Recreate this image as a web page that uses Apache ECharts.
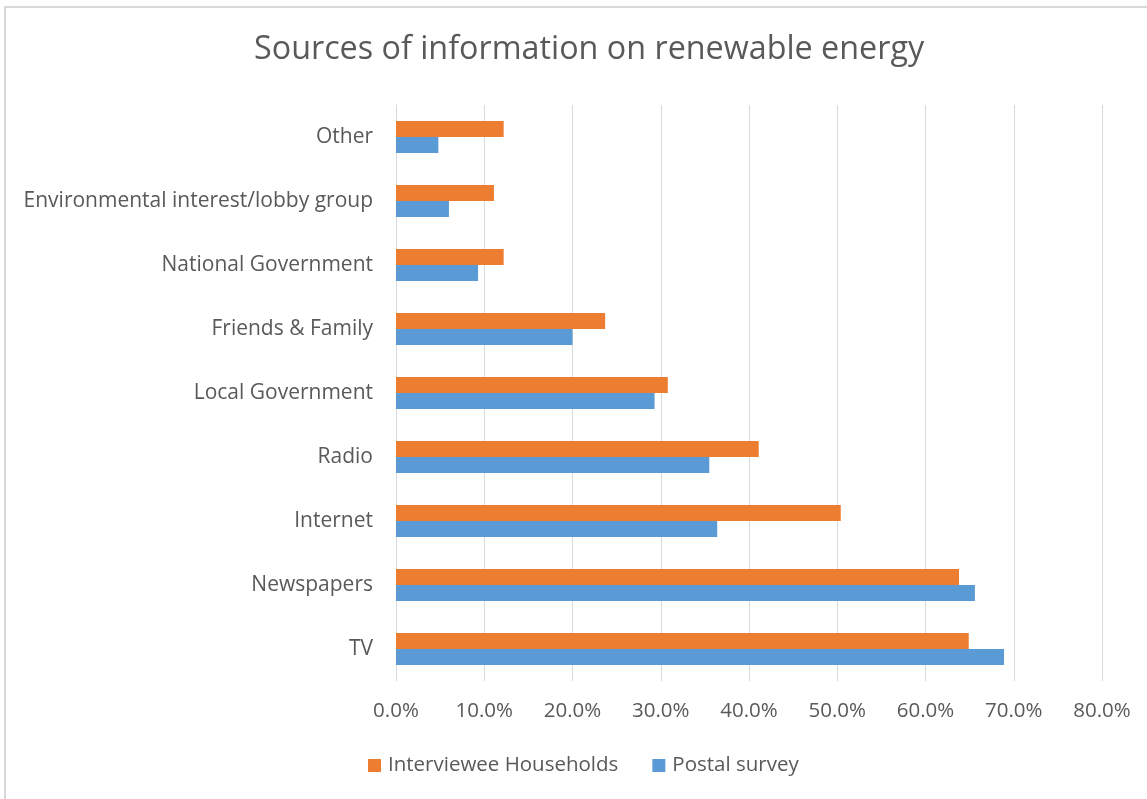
<!DOCTYPE html>
<html>
<head>
<meta charset="utf-8">
<script src="https://cdn.jsdelivr.net/npm/echarts@6/dist/echarts.min.js"></script>
<style>
html,body{margin:0;padding:0;background:#fff;}
#chart{position:absolute;left:0;top:0;width:1147px;height:799px;}
#frame{position:absolute;left:4px;top:6px;width:1143px;height:793px;border-left:2px solid #d9d9d9;border-top:2px solid #d9d9d9;pointer-events:none;box-sizing:border-box;}
</style>
</head>
<body>
<div id="chart"></div>
<div id="frame"></div>
<script>
const categories = ["TV", "Newspapers", "Internet", "Radio", "Local Government", "Friends & Family", "National Government", "Environmental interest/lobby group", "Other"];
const interviewee = [64.9, 63.8, 50.4, 41.1, 30.8, 23.7, 12.2, 11.1, 12.2];
const postal = [68.9, 65.6, 36.4, 35.5, 29.3, 20.0, 9.3, 6.0, 4.8];
const seriesNames = ["Interviewee Households", "Postal survey"];
const xTicks = {min: 0, max: 80, interval: 10};

const font = "'Open Sans', sans-serif";
const chart = echarts.init(document.getElementById('chart'));
chart.setOption({
  animation: false,
  title: {
    text: "Sources of information on renewable energy",
    left: 249, top: 29,
    textStyle: {fontFamily: font, fontSize: 32.3, fontWeight: 'normal', color: '#595959'}
  },
  legend: {
    bottom: 18, left: 363,
    itemWidth: 13, itemHeight: 13, itemGap: 34,
    icon: 'rect',
    textStyle: {fontFamily: font, fontSize: 20.5, color: '#595959', padding: [0, 0, 0, 2]},
    data: seriesNames
  },
  grid: {left: 396, right: 45, top: 105, bottom: 118},
  xAxis: {
    type: 'value', min: xTicks.min, max: xTicks.max, interval: xTicks.interval,
    axisLine: {show: false}, axisTick: {show: false},
    splitLine: {lineStyle: {color: '#d9d9d9', width: 1}},
    axisLabel: {fontFamily: font, fontSize: 20.5, color: '#595959', margin: 20,
      formatter: v => v.toFixed(1) + '%'}
  },
  yAxis: {
    type: 'category', data: categories,
    axisLine: {show: true, lineStyle: {color: '#d9d9d9'}},
    axisTick: {show: false},
    axisLabel: {fontFamily: font, fontSize: 21, color: '#595959', margin: 23}
  },
  series: [
    {name: seriesNames[0], type: 'bar', data: interviewee, barWidth: 16, barGap: '0%', barCategoryGap: '50%', itemStyle: {color: '#ed7d31'}},
    {name: seriesNames[1], type: 'bar', data: postal, barWidth: 16, barGap: '0%', barCategoryGap: '50%', itemStyle: {color: '#5b9bd5'}}
  ]
});
</script>
</body>
</html>
